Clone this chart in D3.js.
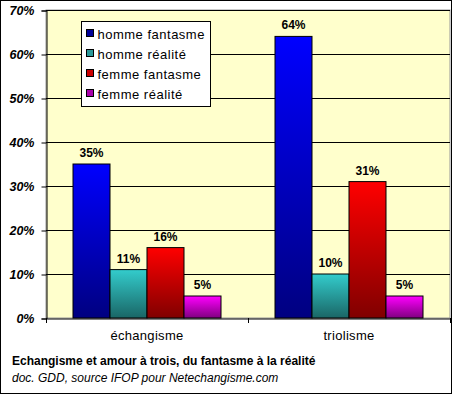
<!DOCTYPE html>
<html>
<head>
<meta charset="utf-8">
<script src="https://cdn.jsdelivr.net/npm/d3@7"></script>
<style>
  body { margin: 0; background: #fff; }
  svg text { font-family: Arial, "Liberation Sans", sans-serif; }
</style>
</head>
<body>
<div id="root"></div>
<script>
'use strict';

var categories = ['échangisme', 'triolisme'];
var seriesNames = ['homme fantasme', 'homme réalité', 'femme fantasme', 'femme réalité'];
var hommeFantasme = [35, 64];
var hommeRealite = [11, 10];
var femmeFantasme = [16, 31];
var femmeRealite = [5, 5];
var yTicks = [0, 10, 20, 30, 40, 50, 60, 70];

var allSeries = [hommeFantasme, hommeRealite, femmeFantasme, femmeRealite];
var colorsTop = ['#0000ff', '#33cccc', '#ff0000', '#ff00ff'];
var colorsBottom = ['#000080', '#1a6666', '#800000', '#800080'];
var legendColors = ['#000099', '#2a9999', '#cc0000', '#aa00aa'];

var W = 452, H = 394;
var plotLeft = 46, plotRight = 450, plotTop = 10, plotBottom = 318;

var svg = d3.select('#root').append('svg').attr('width', W).attr('height', H);

var defs = svg.append('defs');
allSeries.forEach(function (s, i) {
  var g = defs.append('linearGradient').attr('id', 'grad' + i)
    .attr('x1', 0).attr('y1', 0).attr('x2', 0).attr('y2', 1);
  g.append('stop').attr('offset', '0%').attr('stop-color', colorsTop[i]);
  g.append('stop').attr('offset', '100%').attr('stop-color', colorsBottom[i]);
});

// outer frame
svg.append('rect').attr('x', 0.5).attr('y', 0.5).attr('width', W - 1).attr('height', H - 1)
  .attr('fill', '#fff').attr('stroke', '#000');

var x0 = d3.scaleBand().domain(categories).range([plotLeft, plotRight]).paddingInner(0).paddingOuter(0);
var x1 = d3.scaleBand().domain(d3.range(4)).range([27, x0.bandwidth() - 27]);
var y = d3.scaleLinear().domain([0, 70]).range([plotBottom, plotTop]);

// plot area
svg.append('rect').attr('x', plotLeft).attr('y', plotTop).attr('width', plotRight - plotLeft).attr('height', plotBottom - plotTop)
  .attr('fill', '#ffffcc').attr('stroke', '#999').attr('stroke-width', 1);

// gridlines
svg.append('g').selectAll('line').data(yTicks.slice(1)).enter().append('line')
  .attr('x1', plotLeft).attr('x2', plotRight)
  .attr('y1', function (d) { return Math.round(y(d)) + 0.5; })
  .attr('y2', function (d) { return Math.round(y(d)) + 0.5; })
  .attr('stroke', '#000');

// y axis
var yAxis = svg.append('g').attr('transform', 'translate(' + (plotLeft + 0.5) + ',0.5)')
  .call(d3.axisLeft(y).tickValues(yTicks).tickSize(5).tickPadding(7)
    .tickFormat(function (d) { return d + '%'; }));
yAxis.select('.domain').attr('stroke', '#000');
yAxis.selectAll('text').attr('font-size', 12.5).attr('font-weight', 'bold').attr('font-style', 'italic')
  .attr('fill', '#000');

// bars
var groups = svg.append('g').selectAll('g').data(categories).enter().append('g')
  .attr('transform', function (d) { return 'translate(' + x0(d) + ',0)'; });

groups.selectAll('rect').data(function (d, ci) {
  return allSeries.map(function (s, si) { return { si: si, v: s[ci] }; });
}).enter().append('rect')
  .attr('x', function (d) { return x1(d.si); })
  .attr('y', function (d) { return y(d.v); })
  .attr('width', x1.bandwidth())
  .attr('height', function (d) { return y(0) - y(d.v); })
  .attr('fill', function (d) { return 'url(#grad' + d.si + ')'; })
  .attr('stroke', '#000').attr('stroke-width', 1);

groups.selectAll('text.val').data(function (d, ci) {
  return allSeries.map(function (s, si) { return { si: si, v: s[ci] }; });
}).enter().append('text')
  .attr('class', 'val')
  .attr('x', function (d) { return x1(d.si) + x1.bandwidth() / 2; })
  .attr('y', function (d) { return y(d.v) - 7; })
  .attr('text-anchor', 'middle')
  .attr('font-size', 12).attr('font-weight', 'bold')
  .text(function (d) { return d.v + '%'; });

// x axis
var xAxis = svg.append('g').attr('transform', 'translate(0,' + (plotBottom + 0.5) + ')')
  .call(d3.axisBottom(x0).tickSize(0).tickPadding(12));
xAxis.select('.domain').attr('stroke', '#000');
xAxis.selectAll('text').attr('font-size', 13).attr('letter-spacing', 0.3).attr('fill', '#000');
svg.append('g').selectAll('line').data([plotLeft, plotLeft + x0.step(), plotRight]).enter().append('line')
  .attr('x1', function (d) { return Math.round(d) + 0.5; })
  .attr('x2', function (d) { return Math.round(d) + 0.5; })
  .attr('y1', plotBottom).attr('y2', plotBottom + 5).attr('stroke', '#000');

// legend
var lg = svg.append('g').attr('transform', 'translate(81.5,21.5)');
lg.append('rect').attr('width', 129).attr('height', 85).attr('fill', '#fff').attr('stroke', '#000');
seriesNames.forEach(function (n, i) {
  lg.append('rect').attr('x', 5).attr('y', 8 + i * 20).attr('width', 7).attr('height', 7)
    .attr('fill', legendColors[i]).attr('stroke', '#000');
  lg.append('text').attr('x', 16).attr('y', 17 + i * 20).attr('font-size', 13)
    .attr('letter-spacing', 0.5).text(n);
});

// caption
svg.append('text').attr('x', 12).attr('y', 365).attr('font-size', 12).attr('font-weight', 'bold')
  .text('Echangisme et amour à trois, du fantasme à la réalité');
svg.append('text').attr('x', 12).attr('y', 382).attr('font-size', 12).attr('font-style', 'italic')
  .text('doc. GDD, source IFOP pour Netechangisme.com');
</script>
</body>
</html>
